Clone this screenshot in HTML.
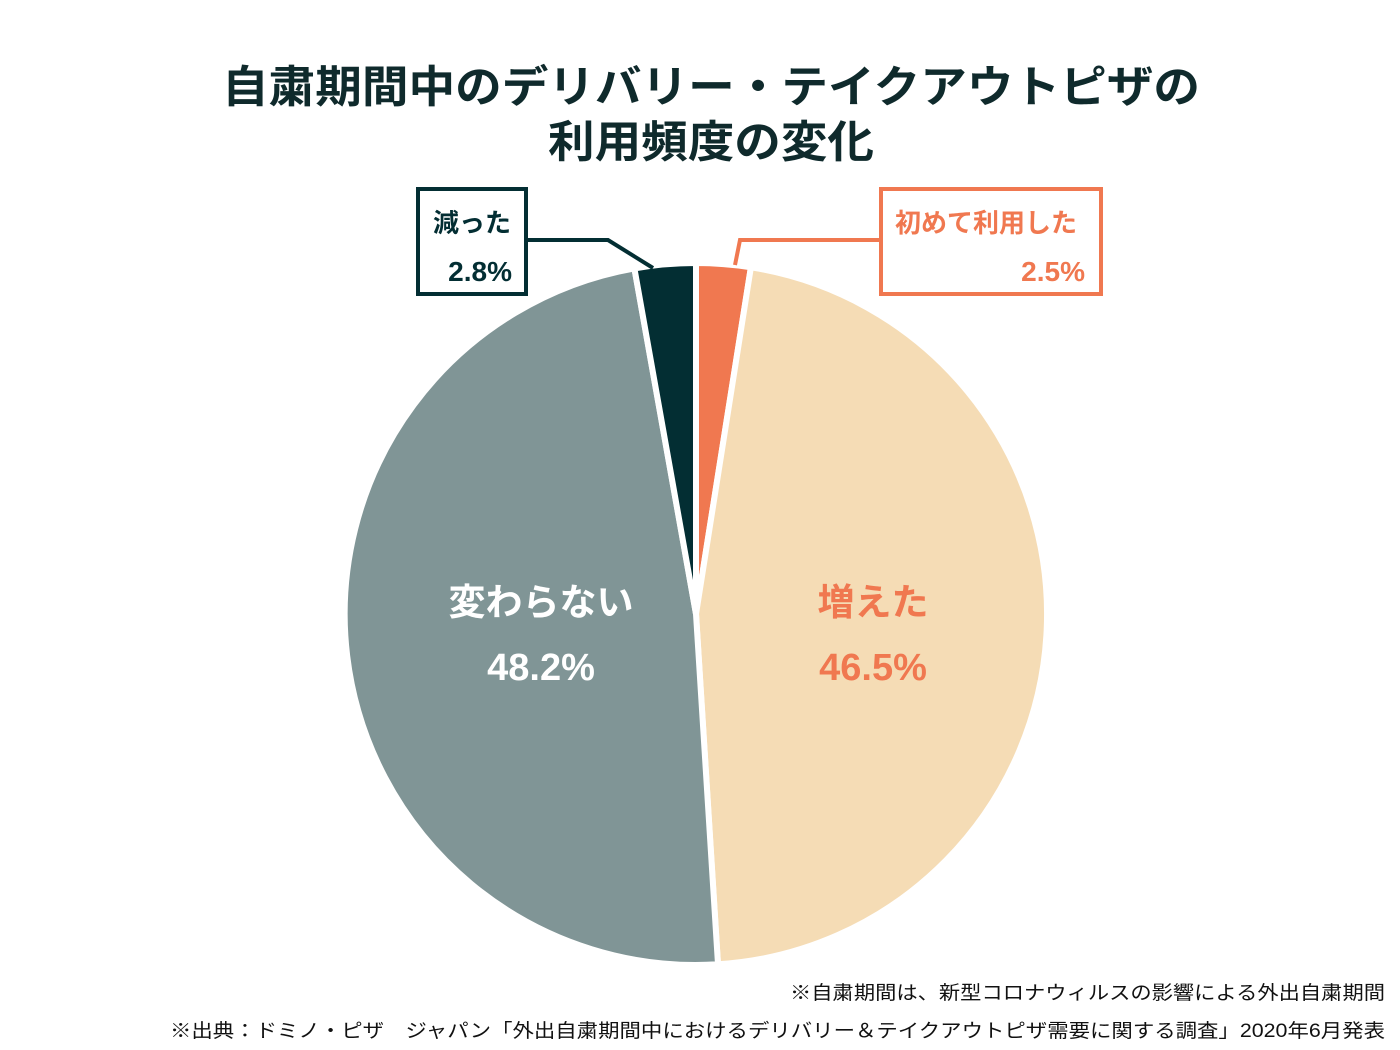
<!DOCTYPE html>
<html><head><meta charset="utf-8"><style>
html,body{margin:0;padding:0;background:#fff;}
svg{display:block;}
text{font-family:"Liberation Sans","Noto Sans CJK JP",sans-serif;font-weight:bold;}
</style></head><body>
<svg width="1400" height="1050" viewBox="0 0 1400 1050" xmlns="http://www.w3.org/2000/svg">
<rect width="1400" height="1050" fill="#fff"/>
<text x="711" y="102" font-size="44" fill="#0f2a2c" text-anchor="middle" textLength="978" lengthAdjust="spacingAndGlyphs">自粛期間中のデリバリー・テイクアウトピザの</text>
<text x="711" y="157" font-size="44" fill="#0f2a2c" text-anchor="middle" textLength="326" lengthAdjust="spacingAndGlyphs">利用頻度の変化</text>
<g stroke="#fff" stroke-width="6" stroke-linejoin="miter">
<path d="M696,614 L696,263 A351,351 0 0 1 750.9,267.3 Z" fill="#f07850"/>
<path d="M696,614 L750.9,267.3 A351,351 0 0 1 718.0,964.3 Z" fill="#f5dcb5"/>
<path d="M696,614 L718.0,964.3 A351,351 0 0 1 634.4,268.4 Z" fill="#809596"/>
<path d="M696,614 L634.4,268.4 A351,351 0 0 1 696,263 Z" fill="#032e33"/>
</g>
<polyline points="528,240 608,240 653,268" fill="none" stroke="#032e33" stroke-width="4"/>
<polyline points="879,240 740,240 735,265" fill="none" stroke="#f07850" stroke-width="4"/>
<rect x="418" y="189" width="108" height="105" fill="#fff" stroke="#032e33" stroke-width="4"/>
<rect x="881" y="189" width="220" height="105" fill="#fff" stroke="#f07850" stroke-width="4"/>
<text x="433" y="232" font-size="26" fill="#032e33">減った</text>
<text x="512" y="281" font-size="28" fill="#032e33" text-anchor="end">2.8%</text>
<text x="895" y="232" font-size="26" fill="#f07850">初めて利用した</text>
<text x="1085" y="281" font-size="28" fill="#f07850" text-anchor="end">2.5%</text>
<text x="541" y="615" font-size="37" fill="#fff" text-anchor="middle">変わらない</text>
<text x="541" y="680" font-size="38" fill="#fff" text-anchor="middle">48.2%</text>
<text x="873" y="615" font-size="37" fill="#f07850" text-anchor="middle">増えた</text>
<text x="873" y="680" font-size="38" fill="#f07850" text-anchor="middle">46.5%</text>
<text x="1385" y="999" font-size="19" fill="#111" text-anchor="end" textLength="595" lengthAdjust="spacingAndGlyphs" style="font-weight:normal">※自粛期間は、新型コロナウィルスの影響による外出自粛期間</text>
<text x="1385" y="1037" font-size="19" fill="#111" text-anchor="end" textLength="1215" lengthAdjust="spacingAndGlyphs" style="font-weight:normal">※出典：ドミノ・ピザ　ジャパン「外出自粛期間中におけるデリバリー＆テイクアウトピザ需要に関する調査」2020年6月発表</text>
</svg>
</body></html>
